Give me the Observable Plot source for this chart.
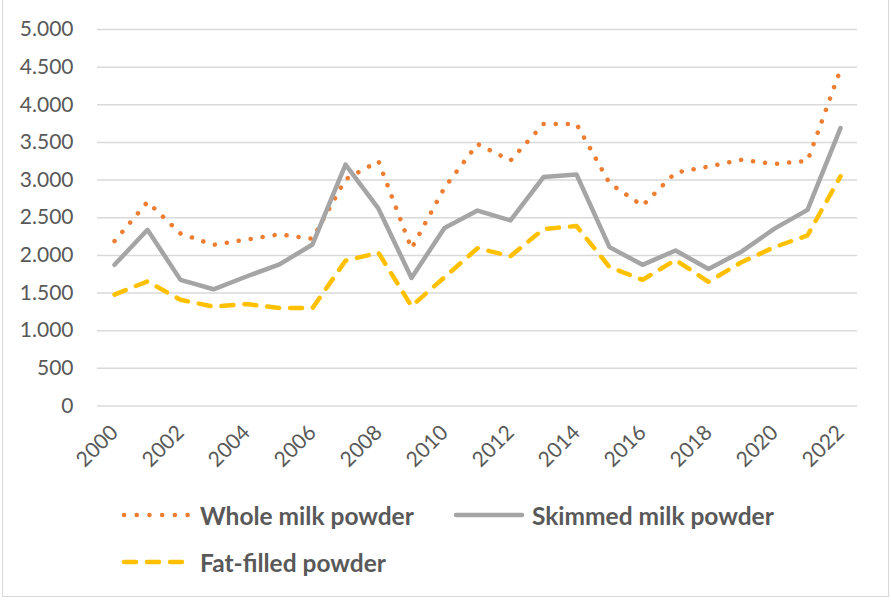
<!DOCTYPE html>
<html>
<head>
<meta charset="utf-8">
<script src="https://cdn.jsdelivr.net/npm/d3@7"></script>
<script src="https://cdn.jsdelivr.net/npm/@observablehq/plot@0.6"></script>
<style>
  html, body { margin: 0; padding: 0; background: #fff; }
  #wrap { position: relative; width: 891px; height: 600px; overflow: hidden; font-family: Lato, "Open Sans", sans-serif; }
  #frame { position: absolute; left: 2px; top: -2px; width: 887px; height: 599px; border: 1.5px solid #d9d9d9; box-sizing: border-box; pointer-events: none; }
  #chart { position: absolute; left: 0; top: 0; }
  .leg { position: absolute; display: flex; align-items: center; font-weight: bold; font-size: 24.5px; color: #595959; white-space: nowrap; }
  .leg svg { margin-right: 7px; }
</style>
</head>
<body>
<div id="wrap">
  <div id="chart"></div>
  <div id="legend"></div>
  <div id="frame"></div>
</div>
<script>
const years = [2000,2001,2002,2003,2004,2005,2006,2007,2008,2009,2010,2011,2012,2013,2014,2015,2016,2017,2018,2019,2020,2021,2022];
const wholeMilk = [2190,2710,2290,2140,2210,2280,2220,3010,3250,2090,2900,3480,3260,3745,3745,2960,2660,3100,3180,3270,3215,3255,4470];
const skimmedMilk = [1875,2340,1675,1550,1720,1880,2145,3205,2620,1700,2365,2595,2465,3040,3075,2110,1875,2065,1820,2050,2355,2605,3690];
const fatFilled = [1480,1655,1410,1320,1355,1300,1300,1930,2035,1325,1710,2095,1990,2350,2390,1845,1675,1940,1650,1910,2110,2265,3050];
const seriesNames = ["Whole milk powder", "Skimmed milk powder", "Fat-filled powder"];
const seriesColors = ["#ED7D31", "#A5A5A5", "#FFC000"];
const xTickYears = [2000,2002,2004,2006,2008,2010,2012,2014,2016,2018,2020,2022];
const yTicks = [0,500,1000,1500,2000,2500,3000,3500,4000,4500,5000];

const fmt = d3.formatLocale({decimal: ",", thousands: ".", grouping: [3], currency: ["", ""]}).format(",");

const rows = (vals) => years.map((y, i) => ({year: y, value: vals[i]}));
const wm = rows(wholeMilk), sm = rows(skimmedMilk), ff = rows(fatFilled);

const chart = Plot.plot({
  width: 891,
  height: 470,
  marginLeft: 97,
  marginRight: 34,
  marginTop: 29,
  marginBottom: 64.5,
  style: {fontFamily: "Lato, 'Open Sans', sans-serif", fontSize: "21px", color: "#595959", background: "transparent"},
  x: {type: "point", domain: years, padding: 0.5},
  y: {domain: [0, 5000]},
  marks: [
    Plot.gridY(yTicks, {stroke: "#d9d9d9", strokeOpacity: 1, strokeWidth: 1.5}),
    Plot.axisY(yTicks, {tickSize: 0, tickPadding: 24, tickFormat: fmt, fill: "#595959", label: null}),
    Plot.axisX(xTickYears, {tickSize: 0, tickPadding: 23, tickRotate: -45, tickFormat: d => String(d), fill: "#595959", label: null}),
    Plot.line(wm, {x: "year", y: "value", stroke: seriesColors[0], strokeWidth: 4.5, strokeLinecap: "round", strokeDasharray: "0.1 12"}),
    Plot.line(sm, {x: "year", y: "value", stroke: seriesColors[1], strokeWidth: 4.5, strokeLinejoin: "round"}),
    Plot.line(ff, {x: "year", y: "value", stroke: seriesColors[2], strokeWidth: 4.5, strokeLinecap: "round", strokeDasharray: "12 11"})
  ]
});
document.getElementById("chart").appendChild(chart);

// legend
const legendItems = [
  {name: seriesNames[0], color: seriesColors[0], dash: "0.1 12.6", left: 121, top: 515},
  {name: seriesNames[1], color: seriesColors[1], dash: null, left: 453, top: 515},
  {name: seriesNames[2], color: seriesColors[2], dash: "12 11", left: 121, top: 562}
];
const leg = document.getElementById("legend");
for (const it of legendItems) {
  const div = document.createElement("div");
  div.className = "leg";
  div.style.left = it.left + "px";
  div.style.top = (it.top - 16) + "px";
  div.style.height = "32px";
  div.innerHTML = `<svg width="72" height="10"><line x1="3" y1="5" x2="69" y2="5" stroke="${it.color}" stroke-width="4.5" stroke-linecap="round" ${it.dash ? `stroke-dasharray="${it.dash}"` : ""}/></svg><span>${it.name}</span>`;
  leg.appendChild(div);
}
</script>
</body>
</html>
